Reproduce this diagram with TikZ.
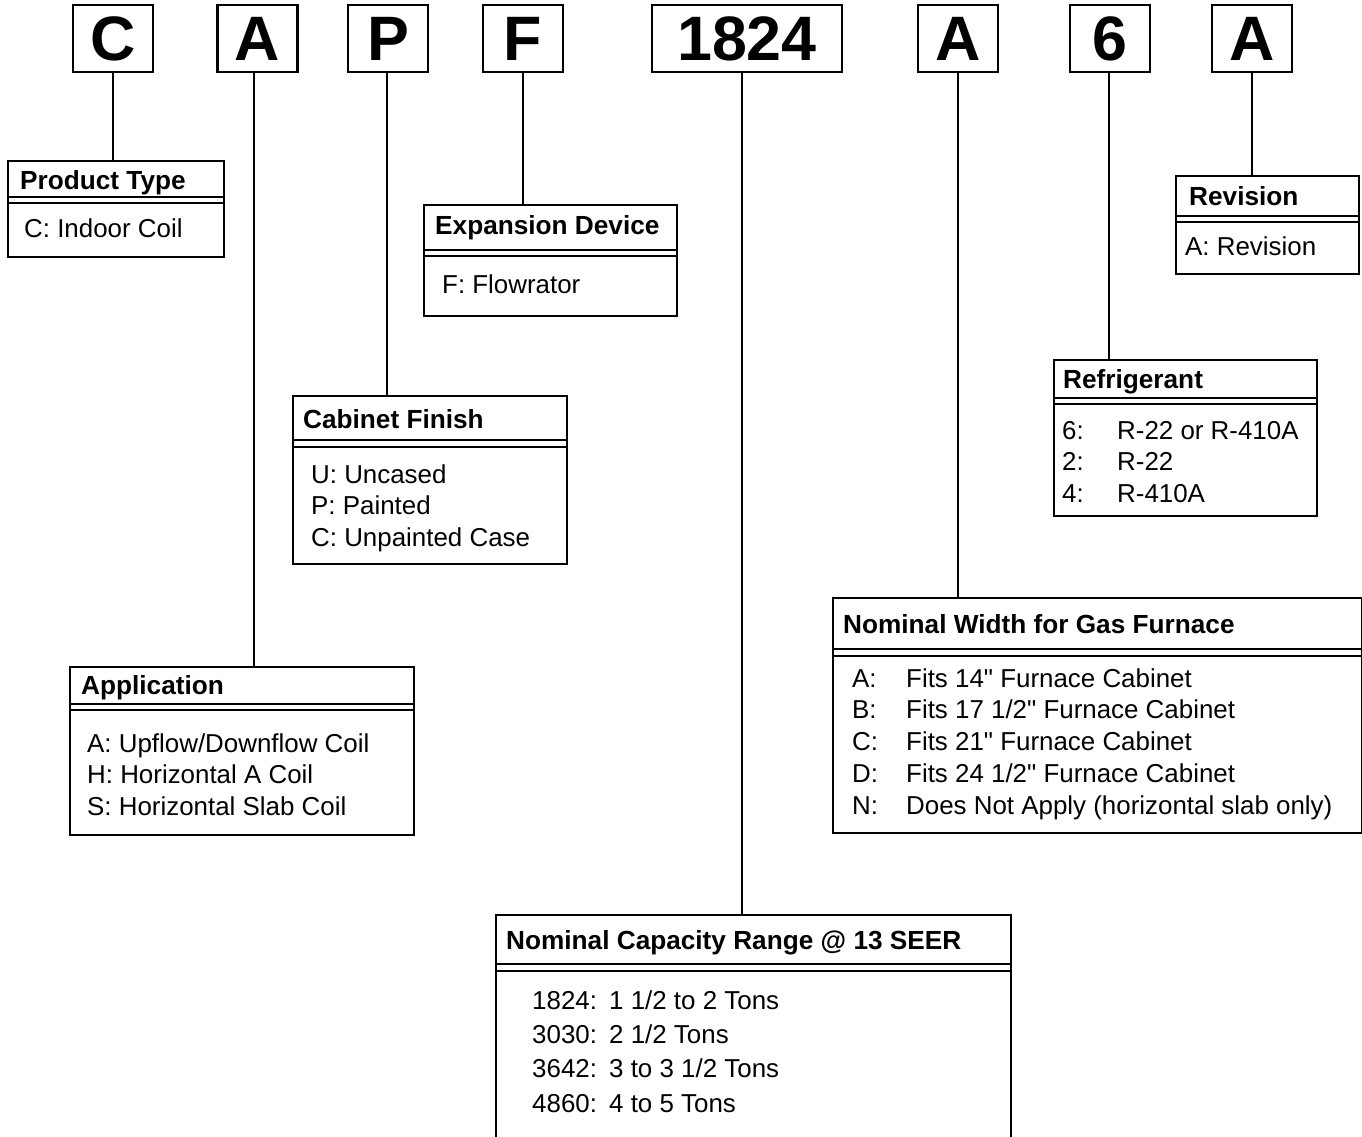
\documentclass[tikz,border=0pt]{standalone}
\usepackage{fontspec}
\setmainfont{Liberation Sans}[Ligatures=TeXOff]
\begin{document}
\begin{tikzpicture}[x=1bp,y=-1bp,
  letter/.style={draw,line width=2.2bp,minimum width=80bp,minimum height=67bp,inner sep=0pt,font=\fontsize{63}{63}\selectfont\bfseries},
  infobox/.style={draw,line width=2bp,anchor=north west,inner sep=0pt},
  hdr/.style={anchor=base west,inner sep=0pt,font=\fontsize{26.3}{30}\selectfont\bfseries},
  body/.style={anchor=base west,inner sep=0pt,font=\fontsize{26}{32}\selectfont},
  conn/.style={line width=2bp},
  sep/.style={line width=1.1bp}]
\useasboundingbox (0,0) rectangle (1362,1136);

% code letters
\node[letter] (C) at (113,38.5) {C};
\node[letter] (A1) at (257.5,38.5) {A};
\node[letter] (P) at (388,38.5) {P};
\node[letter] (F) at (523,38.5) {F};
\node[letter,minimum width=190bp] (N1824) at (747,38.5) {1824};
\node[letter] (A2) at (958,38.5) {A};
\node[letter] (S6) at (1110,38.5) {6};
\node[letter] (A3) at (1252,38.5) {A};

% boxes
\node[infobox,minimum width=216bp,minimum height=96bp] (pt) at (7,160) {};
\node[infobox,minimum width=344bp,minimum height=168bp] (app) at (69,666) {};
\node[infobox,minimum width=274bp,minimum height=168bp] (cab) at (292,395) {};
\node[infobox,minimum width=253bp,minimum height=111bp] (exp) at (423,204) {};
\node[infobox,minimum width=183bp,minimum height=98bp] (rev) at (1175,175) {};
\node[infobox,minimum width=263bp,minimum height=156bp] (ref) at (1053,359) {};
\node[infobox,minimum width=529bp,minimum height=235bp] (wid) at (832,597) {};
\node[infobox,minimum width=515bp,minimum height=240bp] (cap) at (495,914) {};

% double separator lines
\foreach \b/\ya/\yb in {pt/197/203, app/704/710, cab/440/447, exp/250/256, rev/216/222, ref/398/404, wid/649/656, cap/964/971}{
  \draw[sep] (\b.west |- 0,\ya) -- (\b.east |- 0,\ya);
  \draw[sep] (\b.west |- 0,\yb) -- (\b.east |- 0,\yb);
}

% texts
\node[hdr] (pth) at (20,189) {Product Type};
\node[body] (ptb) at (24,237) {C: Indoor Coil};

\node[hdr] (exph) at (435,234) {Expansion Device};
\node[body] (expb) at (442,293) {F: Flowrator};

\node[hdr] (cabh) at (303,428) {Cabinet Finish};
\node[body] (cabb) at (311,483) {\begin{tabular}[t]{@{}l@{}}U: Uncased\\P: Painted\\C: Unpainted Case\end{tabular}};

\node[hdr] (apph) at (81,694) {Application};
\node[body] (appb) at (87,752) {\begin{tabular}[t]{@{}l@{}}A: Upflow/Downflow Coil\\H: Horizontal A Coil\\S: Horizontal Slab Coil\end{tabular}};

\node[hdr] (revh) at (1189,205) {Revision};
\node[body] (revb) at (1185,255) {A: Revision};

\node[hdr] (refh) at (1063,388) {Refrigerant};
\node[body] (refb) at (1062,439) {\begin{tabular}[t]{@{}p{55bp}@{}l@{}}6:&R-22 or R-410A\\2:&R-22\\4:&R-410A\end{tabular}};

\node[hdr] (widh) at (843,633) {Nominal Width for Gas Furnace};
\node[body] (widb) at (852,687) {\begin{tabular}[t]{@{}p{54bp}@{}l@{}}A:&Fits 14" Furnace Cabinet\\B:&Fits 17 1/2" Furnace Cabinet\\C:&Fits 21" Furnace Cabinet\\D:&Fits 24 1/2" Furnace Cabinet\\N:&Does Not Apply (horizontal slab only)\end{tabular}};

\node[hdr] (caph) at (506,949) {Nominal Capacity Range @ 13 SEER};
\node[body,font=\fontsize{26}{34.5}\selectfont] (capb) at (532,1009) {\begin{tabular}[t]{@{}p{77bp}@{}l@{}}1824:&1 1/2 to 2 Tons\\3030:&2 1/2 Tons\\3642:&3 to 3 1/2 Tons\\4860:&4 to 5 Tons\end{tabular}};

% connectors
\draw[conn] (C.south) -- (C.south |- pt.north);
\draw[conn] ([xshift=-3.5bp]A1.south) -- ([xshift=-3.5bp]A1.south |- app.north);
\draw[conn] ([xshift=-1bp]P.south) -- ([xshift=-1bp]P.south |- cab.north);
\draw[conn] (F.south) -- (F.south |- exp.north);
\draw[conn] ([xshift=-5bp]N1824.south) -- ([xshift=-5bp]N1824.south |- cap.north);
\draw[conn] (A2.south) -- (A2.south |- wid.north);
\draw[conn] ([xshift=-1bp]S6.south) -- ([xshift=-1bp]S6.south |- ref.north);
\draw[conn] (A3.south) -- (A3.south |- rev.north);
\end{tikzpicture}
\end{document}
